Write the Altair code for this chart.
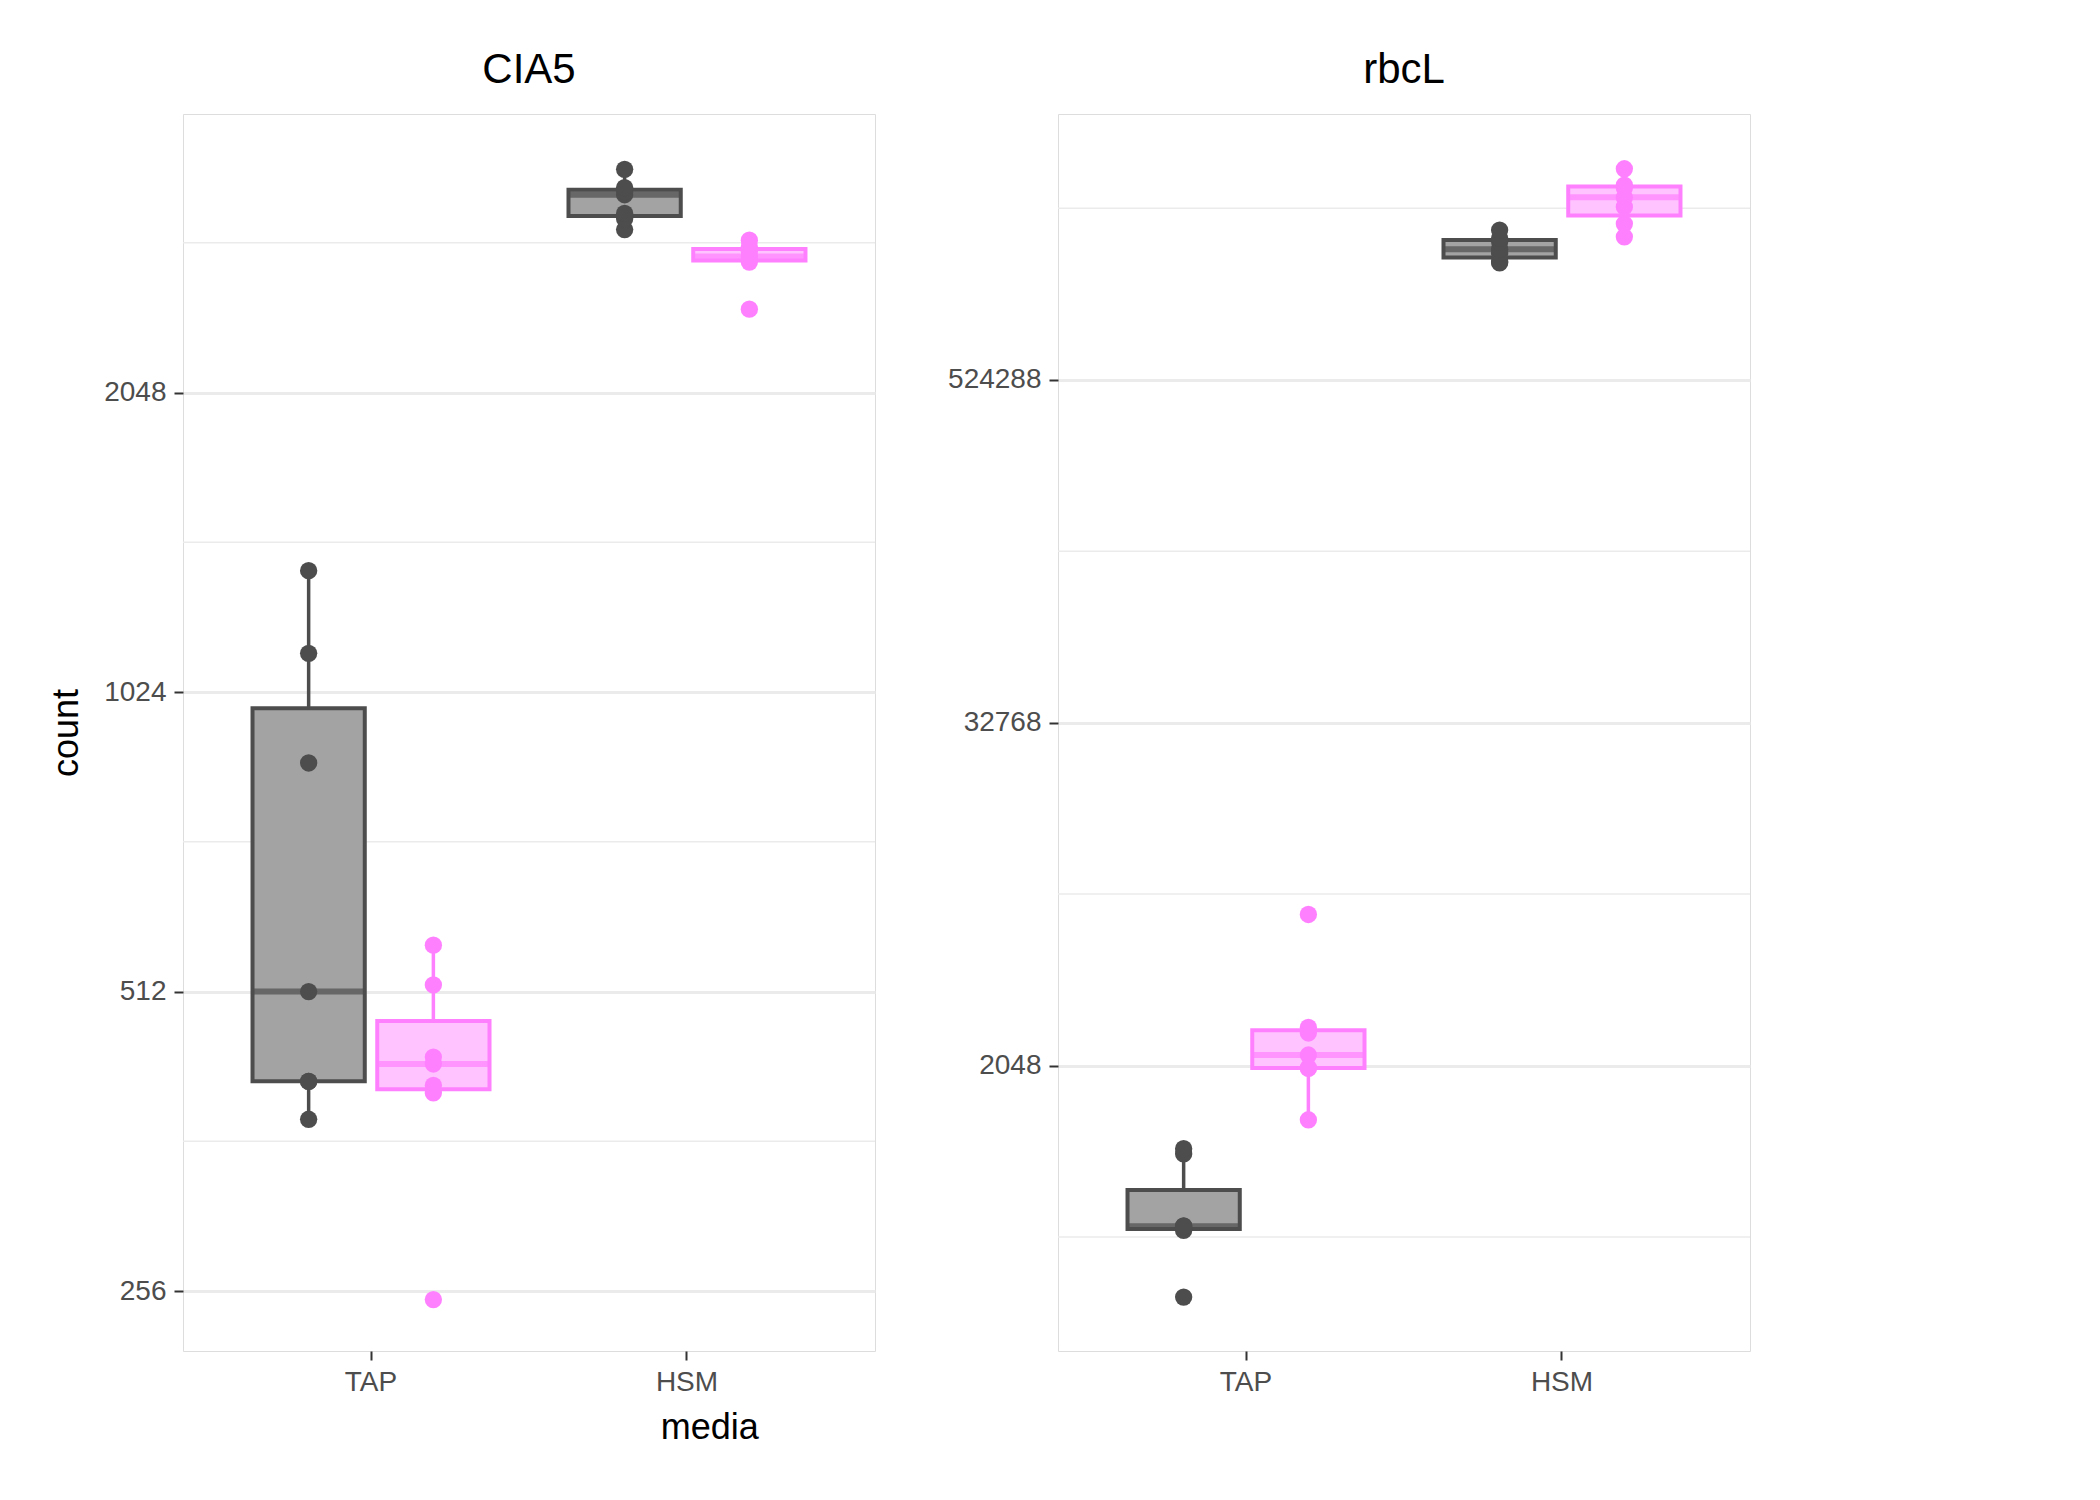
import numpy as np
import pandas as pd
import altair as alt

genes = ['CIA5', 'rbcL']
media = ['TAP', 'HSM']
genotypes = ['WT', 'Δplap6']

# raw counts
cia5_tap_wt = [381, 416, 416, 512, 869, 1120, 1356]
cia5_tap_ko = [251, 405, 412, 433, 440, 520, 570]
cia5_hsm_wt = [2986, 3062, 3100, 3237, 3260, 3291, 3433]
cia5_hsm_ko = [2484, 2770, 2790, 2806, 2840, 2870, 2914]
rbcl_tap_wt = [315, 540, 552, 559, 560, 1002, 1046]
rbcl_tap_ko = [1321, 2003, 2010, 2230, 2665, 2787, 6946]
rbcl_hsm_wt = [1349000, 1360000, 1460000, 1506000, 1600000, 1646000, 1759000]
rbcl_hsm_ko = [1665000, 1850000, 2120000, 2291000, 2470000, 2530000, 2887000]

groups = {
    ('CIA5', 'TAP', 'WT'): cia5_tap_wt, ('CIA5', 'TAP', 'Δplap6'): cia5_tap_ko,
    ('CIA5', 'HSM', 'WT'): cia5_hsm_wt, ('CIA5', 'HSM', 'Δplap6'): cia5_hsm_ko,
    ('rbcL', 'TAP', 'WT'): rbcl_tap_wt, ('rbcL', 'TAP', 'Δplap6'): rbcl_tap_ko,
    ('rbcL', 'HSM', 'WT'): rbcl_hsm_wt, ('rbcL', 'HSM', 'Δplap6'): rbcl_hsm_ko,
}

y_domains = {'CIA5': [7.8, 11.93], 'rbcL': [7.67, 22.1]}
y_ticks = {'CIA5': [8, 9, 10, 11], 'rbcL': [11, 15, 19]}
y_minor = {'CIA5': [8.5, 9.5, 10.5, 11.5], 'rbcL': [9, 13, 17, 21]}

point_rows, box_rows = [], []
for (g, m, gt), vals in groups.items():
    lv = np.log2(vals)
    for v in lv:
        point_rows.append({'gene': g, 'media': m, 'genotype': gt, 'lv': v})
    q1, med, q3 = np.percentile(lv, [25, 50, 75])
    iqr = q3 - q1
    lo = lv[lv >= q1 - 1.5 * iqr].min()
    hi = lv[lv <= q3 + 1.5 * iqr].max()
    box_rows.append({'gene': g, 'media': m, 'genotype': gt,
                     'q1': q1, 'med': med, 'q3': q3, 'lo': lo, 'hi': hi})
points = pd.DataFrame(point_rows)
boxes = pd.DataFrame(box_rows)

fill_scale = alt.Scale(domain=genotypes, range=['#a3a3a3', '#ffc4ff'])
stroke_scale = alt.Scale(domain=genotypes, range=['#4d4d4d', '#ff80ff'])

legend = alt.Legend(symbolType='square', symbolSize=900, symbolStrokeWidth=4,
                    labelFontSize=29, titleFontSize=36, titleFontWeight='normal',
                    titleColor='black', labelColor='black', rowPadding=22,
                    titlePadding=20, labelOffset=18, orient='none',
                    legendX=1760, legendY=570)


def panel(gene, show_title):
    x = alt.X('media:N', sort=media, title=None,
              scale=alt.Scale(paddingInner=0.25, paddingOuter=0.22),
              axis=alt.Axis(labelAngle=0, labelFontSize=28, labelColor='#4d4d4d',
                            tickSize=9, tickColor='#333333', tickWidth=2,
                            gridColor='#ebebeb', domain=False,
                            gridWidth=3, labelPadding=8))
    xo = alt.XOffset('genotype:N', sort=genotypes, scale=alt.Scale(paddingInner=0.1))
    ysc = alt.Scale(domain=y_domains[gene], nice=False, zero=False)
    y = alt.Y('lv:Q', title='count' if show_title else None, scale=ysc,
              axis=alt.Axis(values=y_ticks[gene],
                            labelExpr="format(pow(2, datum.value), 'd')",
                            labelFontSize=28, labelColor='#4d4d4d', titleFontSize=36,
                            titleFontWeight='normal', titleColor='black',
                            tickSize=9, tickColor='#333333', tickWidth=2,
                            gridColor='#ebebeb', domain=False,
                            gridWidth=3, labelPadding=8, titlePadding=18))
    bd = boxes[boxes.gene == gene]
    pdd = points[points.gene == gene]
    minor = alt.Chart(pd.DataFrame({'lv': y_minor[gene]})).mark_rule(
        color='#ebebeb', strokeWidth=1.5).encode(y=alt.Y('lv:Q', scale=ysc))
    base = alt.Chart(bd).encode(x=x, xOffset=xo)
    col = alt.Color('genotype:N', scale=stroke_scale, legend=None)
    whisk_lo = base.mark_rule(strokeWidth=3.5).encode(
        y=alt.Y('lo:Q', scale=ysc), y2='q1:Q', color=col)
    whisk_hi = base.mark_rule(strokeWidth=3.5).encode(y='q3:Q', y2='hi:Q', color=col)
    box = base.mark_bar(strokeWidth=4).encode(
        y='q1:Q', y2='q3:Q',
        fill=alt.Fill('genotype:N', scale=fill_scale, title='genotype', legend=legend),
        stroke=alt.Stroke('genotype:N', scale=stroke_scale, title='genotype', legend=legend))
    med_line = base.mark_tick(thickness=6, size=114).encode(y='med:Q', color=col)
    pts = alt.Chart(pdd).mark_circle(size=300, opacity=1).encode(
        x=x, xOffset=xo, y=y, color=col)
    return alt.layer(minor, pts.mark_circle(opacity=0), whisk_lo, whisk_hi,
                     box, med_line, pts).properties(
        width=692, height=1237,
        title=alt.TitleParams(gene, fontSize=42, fontWeight='normal', color='black',
                              offset=22))


chart = alt.hconcat(panel('CIA5', True), panel('rbcL', False), spacing=70).properties(
    padding={'left': 40, 'top': 40, 'right': 10, 'bottom': 10},
    title=alt.TitleParams('media', orient='bottom', anchor='middle', fontSize=36,
                          fontWeight='normal', color='black', dx=-190, offset=14)
).configure_view(stroke='black', strokeWidth=2).configure(
    font='Liberation Sans', background='white')

chart.save("out.html", embed_options={"renderer": "svg", "actions": False})
